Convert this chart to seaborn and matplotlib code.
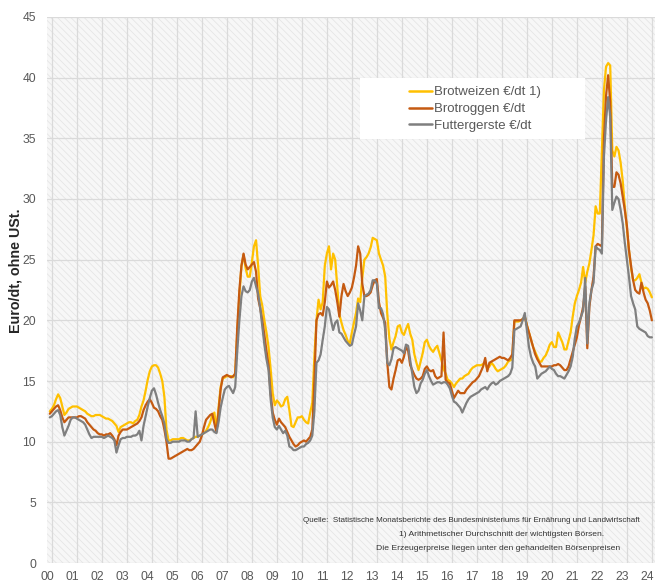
import numpy as np
import pandas as pd
import matplotlib
matplotlib.use("Agg")
import matplotlib.pyplot as plt
from matplotlib import font_manager
from matplotlib.lines import Line2D
from matplotlib.patches import Rectangle
import seaborn as sns

# ---------------- data (monthly, Jan 2000 .. Feb 2024) ----------------
brotweizen = [
    12.5, 12.7, 13.0, 13.5, 13.9, 13.6, 12.9, 12.2, 12.4, 12.7, 12.8, 12.9,  # 2000
    12.9, 12.9, 12.8, 12.7, 12.6, 12.5, 12.3, 12.2, 12.1, 12.1, 12.2, 12.2,  # 2001
    12.2, 12.1, 12.0, 11.9, 11.9, 11.8, 11.7, 11.5, 11.3, 10.8, 11.2, 11.3,  # 2002
    11.4, 11.5, 11.6, 11.6, 11.5, 11.7, 11.8, 12.2, 12.9, 13.4, 14.2, 15.1,  # 2003
    15.8, 16.2, 16.3, 16.3, 16.1, 15.6, 15.0, 13.7, 11.0, 10.1, 10.1, 10.2,  # 2004
    10.2, 10.2, 10.2, 10.3, 10.3, 10.2, 10.1, 10.1, 10.2, 10.3, 10.4, 10.4,  # 2005
    10.5, 10.6, 10.7, 10.9, 11.2, 11.6, 12.2, 12.4, 11.0, 12.8, 14.5, 15.2,  # 2006
    15.3, 15.4, 15.4, 15.4, 15.3, 15.6, 19.0, 22.0, 24.5, 25.4, 24.3, 23.6,  # 2007
    23.6, 24.8, 26.1, 26.6, 24.5, 22.0, 21.2, 20.0, 19.0, 17.8, 16.0, 14.0,  # 2008
    13.0, 13.4, 13.2, 12.9, 13.0, 13.5, 13.7, 12.6, 11.3, 11.2, 11.6, 12.0,  # 2009
    12.0, 12.1, 11.8, 11.6, 11.5, 12.4, 13.2, 17.0, 20.0, 21.7, 20.9, 21.5,  # 2010
    24.5, 25.5, 26.1, 24.2, 25.5, 25.0, 22.8, 20.5, 19.8, 19.2, 18.8, 18.3,  # 2011
    18.1, 19.0, 19.8, 20.6, 21.8, 21.5, 23.5, 25.0, 25.2, 25.5, 26.0, 26.8,  # 2012
    26.7, 26.6, 25.5, 25.0, 24.5, 23.6, 20.5, 18.5, 17.6, 18.2, 18.7, 19.5,  # 2013
    19.6, 19.0, 18.8, 19.3, 19.7, 18.9, 18.4, 17.2, 16.5, 15.9, 16.6, 17.3,  # 2014
    18.2, 18.4, 17.9, 17.6, 17.4, 17.7, 17.9, 17.3, 16.7, 16.0, 15.6, 15.1,  # 2015
    15.0, 14.8, 14.5, 14.8, 15.0, 15.2, 15.2, 15.4, 15.5, 15.6, 15.9, 16.1,  # 2016
    16.2, 16.3, 16.3, 16.3, 16.4, 16.5, 16.0, 16.2, 16.5, 16.3, 16.0, 15.8,  # 2017
    15.9, 16.0, 16.1, 16.3, 16.6, 16.7, 16.8, 19.9, 19.9, 19.9, 20.0, 20.1,  # 2018
    20.3, 19.6, 19.0, 18.4, 17.8, 17.4, 17.0, 16.6, 16.6, 16.9, 17.1, 17.5,  # 2019
    18.0, 18.2, 17.8, 17.8, 19.0, 18.6, 18.2, 17.6, 17.6, 18.3, 19.0, 20.3,  # 2020
    21.4, 22.0, 22.5, 23.1, 24.4, 23.1, 24.0, 24.7, 25.8, 27.0, 29.4, 28.8,  # 2021
    28.8, 34.0, 39.0, 40.9, 41.2, 41.0, 34.0, 33.5, 34.3, 34.0, 33.0, 31.5,  # 2022
    29.4, 27.6, 25.8, 24.3, 23.3, 23.3, 23.5, 23.8, 23.1, 22.6, 22.7, 22.6,  # 2023
    22.3, 21.9,                                                              # 2024
]
brotroggen = [
    12.3, 12.5, 12.7, 12.9, 13.0, 12.6, 12.0, 11.6, 11.8, 12.0, 12.0, 12.0,  # 2000
    12.0, 12.0, 12.1, 12.1, 12.0, 11.9, 11.6, 11.4, 11.2, 11.0, 10.9, 10.7,  # 2001
    10.6, 10.6, 10.5, 10.6, 10.6, 10.7, 10.5, 10.2, 9.7, 10.5, 10.8, 11.0,   # 2002
    11.0, 11.0, 11.1, 11.2, 11.3, 11.4, 11.5, 11.7, 12.0, 12.6, 13.0, 13.3,  # 2003
    13.5, 13.2, 12.8, 12.7, 12.5, 12.1, 11.8, 11.0, 10.0, 8.6, 8.6, 8.7,     # 2004
    8.8, 8.9, 9.0, 9.1, 9.2, 9.3, 9.4, 9.3, 9.3, 9.4, 9.6, 9.8,              # 2005
    10.0, 10.5, 11.2, 11.8, 12.0, 12.2, 12.3, 11.5, 10.8, 12.5, 14.3, 15.3,  # 2006
    15.4, 15.5, 15.4, 15.3, 15.4, 15.6, 19.5, 22.5, 24.5, 25.5, 24.6, 24.2,  # 2007
    24.4, 24.6, 24.8, 24.0, 21.8, 21.0, 20.0, 18.8, 17.5, 16.3, 14.0, 12.4,  # 2008
    11.8, 11.4, 11.9, 11.6, 11.4, 11.2, 10.8, 10.4, 10.1, 9.8, 9.6, 9.7,     # 2009
    9.9, 10.0, 10.1, 10.0, 10.2, 10.4, 11.0, 15.0, 20.0, 20.5, 20.6, 20.4,   # 2010
    21.5, 23.2, 22.7, 22.9, 23.2, 22.5, 21.5, 20.3, 22.0, 23.0, 22.4, 22.0,  # 2011
    22.3, 22.7, 23.5, 24.5, 26.1, 25.5, 23.0, 22.0, 22.0, 22.1, 22.3, 22.9,  # 2012
    23.3, 23.4, 21.5, 20.6, 20.2, 19.8, 16.5, 14.5, 14.3, 15.2, 15.9, 16.7,  # 2013
    16.8, 16.5, 17.0, 17.8, 17.5, 16.3, 15.9, 15.5, 15.2, 15.1, 15.2, 15.4,  # 2014
    16.0, 16.2, 15.9, 15.8, 15.9, 15.4, 15.2, 15.3, 15.4, 19.0, 15.1, 14.9,  # 2015
    14.8, 14.2, 13.6, 13.9, 14.2, 14.0, 14.0, 14.0, 14.3, 14.5, 14.7, 14.9,  # 2016
    15.0, 15.2, 15.4, 15.8, 16.2, 16.9, 15.8, 16.5, 16.6, 16.7, 16.8, 16.9,  # 2017
    17.0, 16.9, 16.9, 16.8, 16.7, 16.9, 17.2, 20.0, 20.0, 20.0, 20.0, 20.1,  # 2018
    20.3, 19.6, 19.0, 18.4, 17.8, 17.2, 16.8, 16.5, 16.2, 16.2, 16.2, 16.2,  # 2019
    16.2, 16.2, 16.3, 16.3, 16.4, 16.3, 16.1, 15.9, 15.9, 16.2, 16.8, 17.4,  # 2020
    18.0, 18.6, 19.6, 20.3, 21.1, 22.8, 17.7, 21.1, 22.5, 23.6, 26.1, 26.3,  # 2021
    26.2, 26.1, 35.0, 38.5, 40.2, 38.0, 31.0, 31.0, 32.2, 32.0, 31.3, 30.2,  # 2022
    29.1, 27.8, 25.8, 24.5, 23.3, 22.5, 22.3, 22.2, 23.1, 22.3, 21.7, 21.4,  # 2023
    20.8, 20.0,                                                              # 2024
]
futtergerste = [
    12.0, 12.1, 12.3, 12.5, 12.6, 12.2, 11.2, 10.5, 10.9, 11.3, 11.8, 12.0,  # 2000
    12.0, 11.9, 11.8, 11.7, 11.6, 11.4, 11.0, 10.6, 10.3, 10.4, 10.4, 10.4,  # 2001
    10.4, 10.4, 10.3, 10.4, 10.5, 10.4, 10.3, 10.1, 9.1, 9.7, 10.2, 10.3,    # 2002
    10.3, 10.4, 10.4, 10.4, 10.5, 10.5, 10.6, 10.9, 10.1, 11.3, 12.1, 12.9,  # 2003
    13.6, 14.2, 14.4, 13.9, 13.2, 12.6, 12.1, 11.5, 10.2, 9.9, 9.9, 10.0,    # 2004
    10.0, 10.0, 10.0, 10.1, 10.1, 10.1, 10.0, 10.0, 10.2, 10.3, 12.5, 10.4,  # 2005
    10.5, 10.6, 10.7, 10.8, 10.9, 11.0, 11.0, 10.8, 10.7, 11.6, 12.8, 13.6,  # 2006
    14.3, 14.5, 14.6, 14.3, 14.0, 14.5, 17.5, 20.0, 22.0, 22.8, 22.4, 22.3,  # 2007
    22.5, 23.2, 23.5, 22.8, 22.2, 21.0, 19.5, 18.0, 16.8, 15.9, 13.5, 12.0,  # 2008
    11.2, 11.0, 11.3, 11.0, 10.7, 10.9, 10.5, 9.6, 9.5, 9.3, 9.3, 9.4,       # 2009
    9.5, 9.6, 9.6, 9.8, 9.9, 10.1, 10.5, 12.5, 16.5, 16.7, 17.2, 18.4,       # 2010
    19.5, 21.1, 20.9, 20.0, 19.2, 19.8, 20.0, 19.0, 18.9, 18.6, 18.3, 18.1,  # 2011
    17.9, 18.0, 18.8, 19.5, 21.4, 20.8, 20.0, 22.0, 22.1, 22.2, 22.5, 23.3,  # 2012
    23.3, 23.0, 21.0, 21.0, 20.5, 19.2, 16.5, 16.3, 16.8, 17.7, 17.8, 17.7,  # 2013
    17.6, 17.5, 17.3, 18.0, 17.9, 16.7, 15.6, 14.5, 14.0, 14.2, 14.8, 15.1,  # 2014
    15.6, 15.9, 15.4, 15.0, 14.7, 14.8, 14.9, 14.9, 14.8, 14.9, 14.9, 14.7,  # 2015
    14.4, 13.8, 13.3, 13.2, 13.0, 12.8, 12.4, 12.8, 13.2, 13.5, 13.7, 13.8,  # 2016
    13.9, 14.0, 14.1, 14.3, 14.4, 14.5, 14.3, 14.6, 14.8, 14.9, 14.7, 14.8,  # 2017
    15.0, 15.1, 15.2, 15.3, 15.4, 15.6, 16.1, 19.2, 19.3, 19.4, 19.5, 20.0,  # 2018
    20.6, 19.2, 17.8, 17.0, 16.5, 16.2, 15.2, 15.4, 15.6, 15.7, 15.8, 16.0,  # 2019
    16.2, 16.0, 15.9, 15.6, 15.4, 15.4, 15.3, 15.2, 15.5, 15.8, 16.2, 17.0,  # 2020
    18.5, 19.5, 19.8, 20.3, 20.8, 23.5, 18.1, 21.4, 22.5, 23.1, 26.1, 25.9,  # 2021
    25.8, 25.5, 33.5, 36.5, 38.4, 36.8, 29.1, 29.7, 30.2, 30.0, 29.1, 28.0,  # 2022
    26.4, 25.0, 23.6, 22.0, 21.4, 20.9, 19.5, 19.3, 19.2, 19.1, 19.0, 18.7,  # 2023
    18.6, 18.6,                                                              # 2024
]
series_names = ["Brotweizen €/dt 1)", "Brotroggen €/dt", "Futtergerste €/dt"]
series_colors = ["#FFC000", "#C55A11", "#7F7F7F"]
year_labels = ["00", "01", "02", "03", "04", "05", "06", "07", "08", "09", "10",
               "11", "12", "13", "14", "15", "16", "17", "18", "19", "20", "21",
               "22", "23", "24"]
y_ticks = [0, 5, 10, 15, 20, 25, 30, 35, 40, 45]

months = pd.date_range("2000-01-01", periods=len(brotweizen), freq="MS")
tpos = (months.year - 2000) + (months.month - 0.5) / 12.0

df = pd.concat([
    pd.DataFrame({"t": tpos, "value": vals, "series": name})
    for name, vals in zip(series_names, [brotweizen, brotroggen, futtergerste])
], ignore_index=True)

# ---------------- style ----------------
sns.set_theme(style="white")


def pick(fams):
    for f in fams:
        try:
            font_manager.findfont(font_manager.FontProperties(family=f), fallback_to_default=False)
            return f
        except Exception:
            continue
    return "DejaVu Sans"


base_font = pick(["Liberation Sans", "Arial", "DejaVu Sans"])
narrow_font = pick(["Liberation Sans Narrow", "Arial Narrow", base_font])
narrow_ok = narrow_font != base_font
plt.rcParams["font.family"] = [base_font, "DejaVu Sans"]
plt.rcParams["hatch.linewidth"] = 0.6

fig = plt.figure(figsize=(6.6, 5.84), dpi=100)
ax = fig.add_axes([47 / 660, 1 - 563 / 584, 608 / 660, 546 / 584])
ax.set_facecolor("#f6f6f6")
bg = Rectangle((0, 0), 1, 1, transform=ax.transAxes, facecolor="#f7f7f7",
               edgecolor="#e6e6e6", hatch="\\\\\\\\\\", linewidth=0, zorder=0)
ax.add_patch(bg)
ax.set_axisbelow(True)

sns.lineplot(data=df, x="t", y="value", hue="series", palette=series_colors,
             hue_order=series_names, linewidth=1.6, legend=False, ax=ax,
             estimator=None, sort=False, zorder=3)

ax.set_xlim(0, 24.25)
ax.set_ylim(0, 45)
ax.set_yticks(y_ticks)
ax.set_yticklabels([str(v) for v in y_ticks])
ax.set_xticks([k - 0.07 for k in range(len(year_labels))])
ax.set_xticklabels(year_labels)
ax.set_xticks([k + 0.12 for k in range(len(year_labels))], minor=True)
ax.grid(False)
ax.grid(True, axis="y", which="major", color="#dadada", linewidth=0.9)
ax.grid(True, axis="x", which="minor", color="#dadada", linewidth=0.9)
ax.tick_params(axis="both", which="both", length=0, labelsize=8.7, colors="#595959")
ax.tick_params(axis="y", pad=8)
ax.tick_params(axis="x", pad=6)
ax.set_xlabel("")
ax.set_ylabel("")
for s in ax.spines.values():
    s.set_visible(False)

fig.text(16 / 660, 1 - 271 / 584, "Euro/dt, ohne USt.", rotation=90, ha="center",
         va="center", fontsize=10.3, fontweight="bold", color="#262626")

# legend box
ax.add_patch(Rectangle(((360 - 47) / 608, (563 - 139) / 546), 225 / 608, 61 / 546,
                       transform=ax.transAxes, facecolor="white", edgecolor="none",
                       zorder=4))
handles = [Line2D([0], [0], color=c, lw=1.8) for c in series_colors]
leg = ax.legend(handles, series_names, loc="center",
                bbox_to_anchor=((475 - 47) / 608, (563 - 109) / 546),
                frameon=False, fontsize=9.5, handlelength=1.75, handletextpad=0.15,
                labelspacing=0.35, borderpad=0)
leg.set_zorder(5)
for t in leg.get_texts():
    t.set_color("#595959")

# notes
note_fam = [narrow_font, "DejaVu Sans"]
q_size = 7.0 if narrow_ok else 5.75
n_size = 7.4 if narrow_ok else 6.1
fig.text(303 / 660, 1 - 520 / 584,
         "Quelle:  Statistische Monatsberichte des Bundesministeriums für Ernährung und Landwirtschaft",
         ha="left", va="center", fontsize=q_size, color="#333333", family=note_fam)
fig.text(502 / 660, 1 - 535 / 584, "1) Arithmetischer Durchschnitt der wichtigsten Börsen.",
         ha="center", va="center", fontsize=n_size, color="#333333", family=note_fam)
fig.text(498 / 660, 1 - 548 / 584, "Die Erzeugerpreise liegen unter den gehandelten Börsenpreisen",
         ha="center", va="center", fontsize=n_size, color="#333333", family=note_fam)

fig.savefig("out.png", dpi=100, facecolor="white")
